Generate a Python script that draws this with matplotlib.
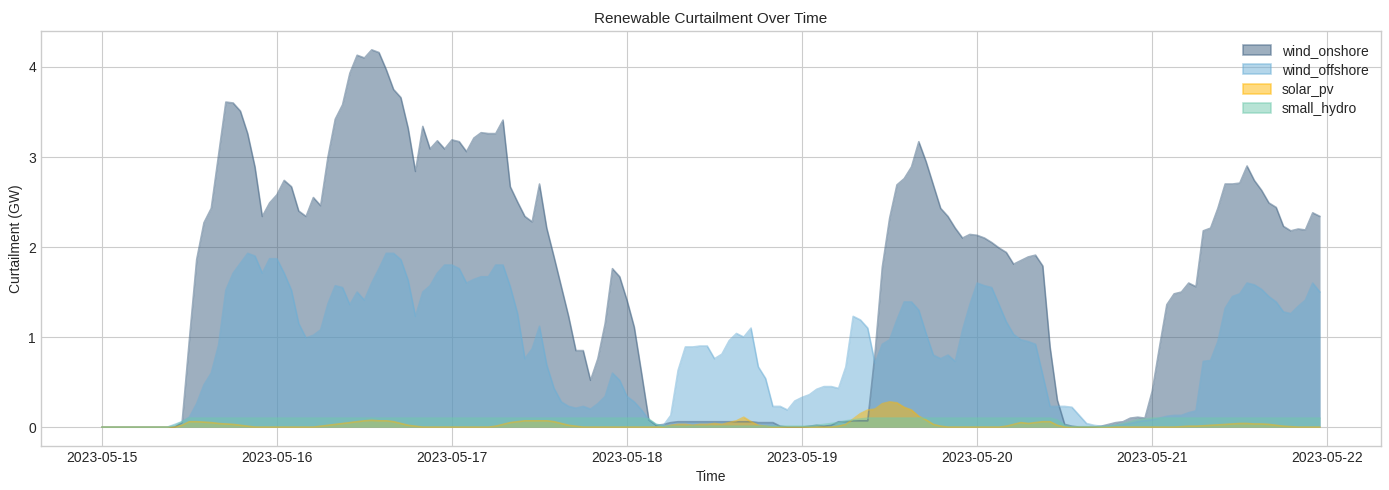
import matplotlib
matplotlib.use("Agg")
import matplotlib.pyplot as plt
import matplotlib.dates as mdates
from matplotlib.patches import Patch
import pandas as pd
import numpy as np

plt.style.use("seaborn-v0_8-whitegrid")
plt.rcParams["font.family"] = ["Liberation Sans", "DejaVu Sans"]

# ---- data (GW, hourly from 2023-05-15 00:00) ----
start_time = "2023-05-15 00:00"
wind_onshore = [
    0, 0, 0, 0, 0, 0, 0, 0, 0, 0, 0, 0.05, 0.97, 1.86, 2.27, 2.43, 3.02, 3.61, 3.60, 3.51, 3.26, 2.89, 2.34, 2.49,
    2.58, 2.74, 2.67, 2.40, 2.34, 2.55, 2.46, 3.00, 3.42, 3.58, 3.93, 4.13, 4.10, 4.19, 4.16, 3.97, 3.75, 3.66, 3.32, 2.84, 3.34, 3.09, 3.18, 3.09,
    3.19, 3.17, 3.06, 3.21, 3.27, 3.26, 3.26, 3.41, 2.67, 2.50, 2.34, 2.28, 2.70, 2.21, 1.89, 1.56, 1.23, 0.85, 0.85, 0.52, 0.76, 1.15, 1.76, 1.67,
    1.41, 1.11, 0.60, 0.08, 0.02, 0.03, 0.05, 0.06, 0.06, 0.06, 0.06, 0.06, 0.06, 0.06, 0.06, 0.06, 0.06, 0.06, 0.05, 0.05, 0.05, 0.01, 0.0, 0.0,
    0.0, 0.01, 0.02, 0.01, 0.02, 0.06, 0.06, 0.07, 0.07, 0.07, 0.82, 1.78, 2.32, 2.69, 2.76, 2.89, 3.17, 2.95, 2.69, 2.43, 2.34, 2.21, 2.10, 2.14,
    2.13, 2.10, 2.05, 1.99, 1.94, 1.81, 1.85, 1.89, 1.91, 1.79, 0.89, 0.30, 0.03, 0.01, 0.0, 0.0, 0.0, 0.01, 0.03, 0.05, 0.06, 0.10, 0.11, 0.10,
    0.40, 0.89, 1.36, 1.48, 1.50, 1.60, 1.56, 2.18, 2.21, 2.43, 2.70, 2.70, 2.71, 2.90, 2.74, 2.63, 2.49, 2.44, 2.23, 2.18, 2.20, 2.19, 2.38, 2.34,
]
wind_offshore = [
    0, 0, 0, 0, 0, 0, 0, 0, 0, 0, 0.03, 0.06, 0.11, 0.26, 0.47, 0.60, 0.91, 1.52, 1.71, 1.82, 1.93, 1.90, 1.71, 1.87,
    1.87, 1.71, 1.52, 1.15, 0.99, 1.02, 1.08, 1.37, 1.57, 1.55, 1.36, 1.50, 1.41, 1.60, 1.76, 1.93, 1.93, 1.86, 1.63, 1.23, 1.50, 1.57, 1.71, 1.80,
    1.80, 1.76, 1.60, 1.64, 1.67, 1.67, 1.80, 1.80, 1.56, 1.26, 0.76, 0.87, 1.12, 0.69, 0.43, 0.28, 0.23, 0.21, 0.23, 0.20, 0.26, 0.34, 0.60, 0.52,
    0.34, 0.28, 0.19, 0.08, 0.03, 0.02, 0.13, 0.63, 0.89, 0.89, 0.90, 0.90, 0.76, 0.81, 0.96, 1.04, 1.00, 1.10, 0.67, 0.54, 0.23, 0.23, 0.19, 0.29,
    0.33, 0.36, 0.42, 0.45, 0.45, 0.43, 0.67, 1.23, 1.19, 1.10, 0.71, 0.92, 0.97, 1.19, 1.39, 1.39, 1.30, 1.04, 0.80, 0.76, 0.80, 0.73, 1.08, 1.36,
    1.60, 1.57, 1.55, 1.36, 1.17, 1.03, 0.97, 0.95, 0.92, 0.58, 0.23, 0.23, 0.23, 0.22, 0.13, 0.04, 0.02, 0.01, 0.01, 0.02, 0.03, 0.04, 0.06, 0.07,
    0.08, 0.10, 0.12, 0.13, 0.13, 0.16, 0.18, 0.73, 0.74, 0.95, 1.32, 1.45, 1.48, 1.60, 1.58, 1.53, 1.45, 1.39, 1.28, 1.26, 1.34, 1.41, 1.60, 1.50,
]
solar_pv = [
    0, 0, 0, 0, 0, 0, 0, 0, 0, 0, 0, 0.02, 0.06, 0.06, 0.055, 0.05, 0.04, 0.035, 0.03, 0.02, 0.01, 0, 0, 0,
    0, 0, 0, 0, 0, 0, 0.01, 0.02, 0.03, 0.04, 0.05, 0.06, 0.07, 0.075, 0.07, 0.07, 0.06, 0.04, 0.02, 0.01, 0, 0, 0, 0,
    0, 0, 0, 0, 0, 0, 0.01, 0.03, 0.05, 0.06, 0.07, 0.07, 0.07, 0.07, 0.06, 0.04, 0.02, 0.01, 0, 0, 0, 0, 0, 0,
    0, 0, 0, 0, 0, 0, 0.02, 0.03, 0.03, 0.02, 0.03, 0.03, 0.04, 0.03, 0.05, 0.07, 0.11, 0.06, 0.02, 0.01, 0, 0, 0, 0,
    0, 0, 0, 0, 0, 0.01, 0.03, 0.09, 0.15, 0.19, 0.20, 0.26, 0.28, 0.27, 0.22, 0.19, 0.12, 0.08, 0.03, 0.01, 0, 0, 0, 0,
    0, 0, 0, 0, 0.01, 0.03, 0.05, 0.04, 0.05, 0.06, 0.06, 0.02, 0, 0, 0, 0, 0, 0, 0, 0, 0, 0, 0, 0,
    0, 0, 0, 0, 0.005, 0.01, 0.01, 0.015, 0.02, 0.025, 0.03, 0.035, 0.04, 0.04, 0.035, 0.035, 0.03, 0.02, 0.01, 0.005, 0, 0, 0, 0,
]
small_hydro = [
    0, 0, 0, 0, 0, 0, 0, 0, 0, 0, 0.02, 0.06, 0.1, 0.1, 0.1, 0.1, 0.1, 0.1, 0.1, 0.1, 0.1, 0.1, 0.1, 0.1,
    0.1, 0.1, 0.1, 0.1, 0.1, 0.1, 0.1, 0.1, 0.1, 0.1, 0.1, 0.1, 0.1, 0.1, 0.1, 0.1, 0.1, 0.1, 0.1, 0.1, 0.1, 0.1, 0.1, 0.1,
    0.1, 0.1, 0.1, 0.1, 0.1, 0.1, 0.1, 0.1, 0.1, 0.1, 0.1, 0.1, 0.1, 0.1, 0.1, 0.1, 0.1, 0.1, 0.1, 0.1, 0.1, 0.1, 0.1, 0.1,
    0.1, 0.1, 0.1, 0.09, 0.03, 0.01, 0.01, 0.01, 0.01, 0.01, 0.01, 0.01, 0.01, 0.01, 0.01, 0.01, 0.01, 0.01, 0.01, 0.01, 0.01, 0.01, 0.01, 0.01,
    0.01, 0.01, 0.02, 0.03, 0.04, 0.05, 0.07, 0.08, 0.09, 0.1, 0.1, 0.1, 0.1, 0.1, 0.1, 0.1, 0.1, 0.1, 0.1, 0.1, 0.1, 0.1, 0.1, 0.1,
    0.1, 0.1, 0.1, 0.1, 0.1, 0.1, 0.1, 0.1, 0.1, 0.1, 0.1, 0.08, 0.02, 0.005, 0.005, 0.005, 0.005, 0.005, 0.01, 0.02, 0.04, 0.06, 0.08, 0.09,
    0.1, 0.1, 0.1, 0.1, 0.1, 0.1, 0.1, 0.1, 0.1, 0.1, 0.1, 0.1, 0.1, 0.1, 0.1, 0.1, 0.1, 0.1, 0.1, 0.1, 0.1, 0.1, 0.1, 0.1,
]
series_names = ["wind_onshore", "wind_offshore", "solar_pv", "small_hydro"]
series_colors = ["#3f6181", "#6baed6", "#ffb703", "#70c9ad"]

times = pd.date_range(start_time, periods=len(wind_onshore), freq="h")
df = pd.DataFrame({
    "wind_onshore": wind_onshore,
    "wind_offshore": wind_offshore,
    "solar_pv": solar_pv,
    "small_hydro": small_hydro,
}, index=times)

fig, ax = plt.subplots(figsize=(13.89, 4.9), dpi=100)
handles = []
for name, col in zip(series_names, series_colors):
    ax.fill_between(df.index, 0, df[name], color=col, alpha=0.5, linewidth=0)
    ax.plot(df.index, df[name], color=col, alpha=0.5, linewidth=1.2)
    handles.append(Patch(facecolor=col, edgecolor=col, alpha=0.5, linewidth=1.2, label=name))

ax.xaxis.set_major_locator(mdates.DayLocator())
ax.xaxis.set_major_formatter(mdates.DateFormatter("%Y-%m-%d"))
ax.set_title("Renewable Curtailment Over Time", fontsize=11)
ax.set_xlabel("Time")
ax.set_ylabel("Curtailment (GW)")
ax.legend(handles=handles, loc="upper right", frameon=False, labelspacing=0.4)
fig.subplots_adjust(left=0.0295, right=0.9942, top=0.9367, bottom=0.0898)
fig.savefig("out.png", dpi=100)
